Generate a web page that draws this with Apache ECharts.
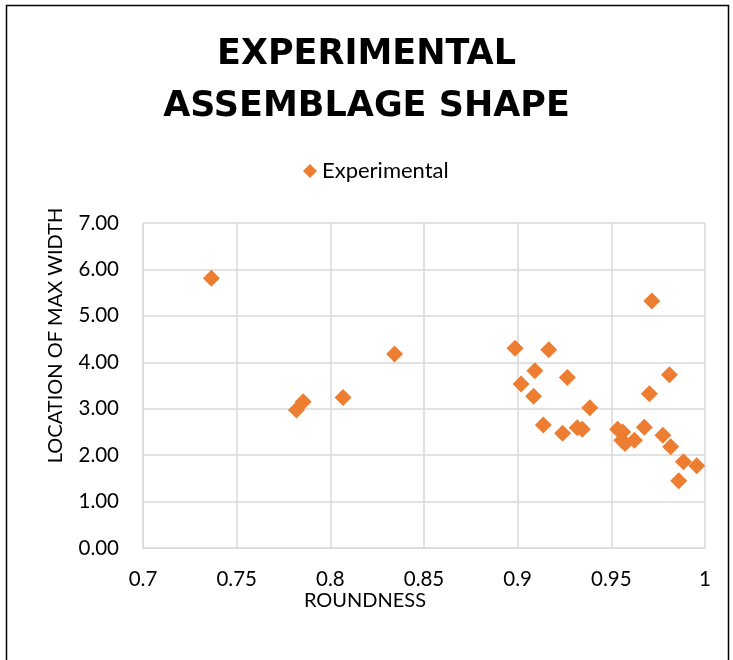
<!DOCTYPE html>
<html>
<head>
<meta charset="utf-8">
<script src="https://cdn.jsdelivr.net/npm/echarts@6/dist/echarts.min.js"></script>
<style>
html,body{margin:0;padding:0;background:#fff;}
#chart{width:733px;height:660px;}
</style>
</head>
<body>
<div id="chart"></div>
<script>
const titleText = "EXPERIMENTAL\nASSEMBLAGE SHAPE";
const seriesName = "Experimental";
const xAxisName = "ROUNDNESS";
const yAxisName = "LOCATION OF MAX WIDTH";
const roundness = [0.7365, 0.8343, 0.8068, 0.7855, 0.7819,
  0.9716, 0.8986, 0.9166, 0.9092, 0.9265, 0.9018, 0.9085, 0.9385, 0.9137, 0.9240, 0.9318, 0.9345,
  0.9810, 0.9703, 0.9534, 0.9561, 0.9556, 0.9573, 0.9623, 0.9676, 0.9775, 0.9817, 0.9885, 0.9956, 0.9860];
const maxWidthLoc = [5.81, 4.18, 3.24, 3.15, 2.97,
  5.32, 4.30, 4.27, 3.82, 3.67, 3.53, 3.27, 3.02, 2.65, 2.47, 2.59, 2.56,
  3.73, 3.32, 2.56, 2.50, 2.32, 2.25, 2.32, 2.60, 2.43, 2.18, 1.86, 1.77, 1.45];

const points = roundness.map((x, i) => [x, maxWidthLoc[i]]);
const font = "Lato";
const chart = echarts.init(document.getElementById('chart'), null, {renderer: 'canvas'});
chart.setOption({
  backgroundColor: '#fff',
  animation: false,
  graphic: [{
    type: 'rect', shape: {x: 6.5, y: 5.5, width: 722, height: 700},
    style: {fill: 'none', stroke: '#000', lineWidth: 1.5}, silent: true
  }],
  title: {
    text: titleText, left: 'center', top: 24,
    textStyle: {fontFamily: 'DejaVu Sans', fontWeight: 'bold', fontSize: 35, lineHeight: 52, color: '#000'}
  },
  legend: {
    top: 155, left: 298, itemWidth: 14, itemHeight: 14,
    textStyle: {fontFamily: font, fontSize: 22, color: '#000'},
    data: [{name: seriesName, icon: 'diamond'}]
  },
  grid: {left: 143, right: 28, top: 223, bottom: 112},
  xAxis: {
    type: 'value', min: 0.7, max: 1, interval: 0.05,
    name: xAxisName, nameLocation: 'middle', nameGap: 43,
    nameTextStyle: {fontFamily: font, fontSize: 20, color: '#000', padding: [0, 118, 0, 0]},
    axisLabel: {fontFamily: font, fontSize: 20.5, color: '#000', margin: 21,
      formatter: v => String(parseFloat(v.toFixed(2)))},
    axisLine: {show: true, lineStyle: {color: '#d9d9d9', width: 1}},
    axisTick: {show: false},
    splitLine: {show: true, lineStyle: {color: '#d9d9d9', width: 1.5}}
  },
  yAxis: {
    type: 'value', min: 0, max: 7, interval: 1,
    name: yAxisName, nameLocation: 'middle', nameGap: 77, nameRotate: 90,
    nameTextStyle: {fontFamily: font, fontSize: 20, color: '#000', padding: [0, 0, 0, 100]},
    axisLabel: {fontFamily: font, fontSize: 20.5, color: '#000', margin: 24,
      formatter: v => v.toFixed(2)},
    axisLine: {show: true, lineStyle: {color: '#d9d9d9', width: 1}},
    axisTick: {show: false},
    splitLine: {show: true, lineStyle: {color: '#d9d9d9', width: 1.5}}
  },
  series: [{
    name: seriesName, type: 'scatter', symbol: 'diamond', symbolSize: 17,
    itemStyle: {color: '#ED7D31', opacity: 1},
    data: points
  }]
});
</script>
</body>
</html>
